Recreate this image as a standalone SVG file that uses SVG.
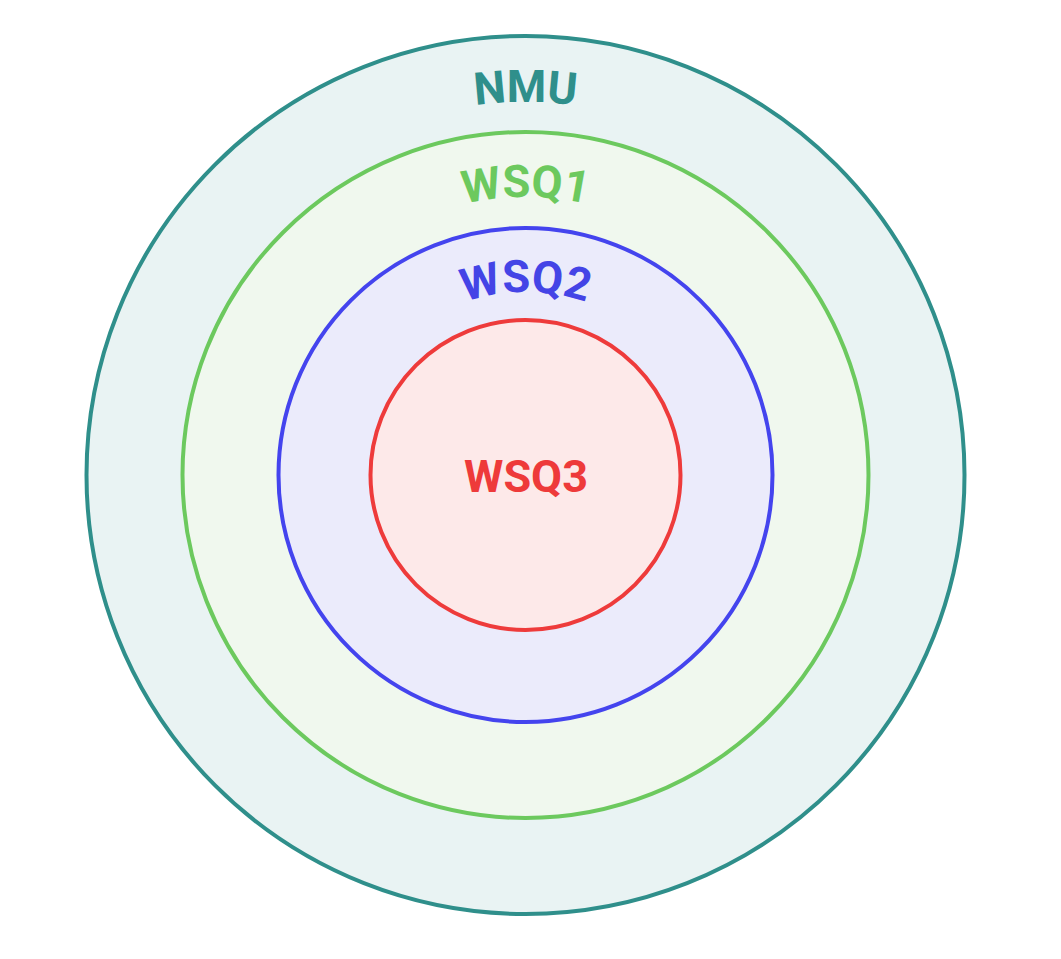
<svg xmlns="http://www.w3.org/2000/svg" xmlns:xlink="http://www.w3.org/1999/xlink" width="1061" height="959" viewBox="0 0 1061 959">
<style>
.lbl{font-family:Roboto,"Liberation Sans",sans-serif;font-weight:bold;font-size:45px;text-anchor:middle}
circle{stroke-width:4}
</style>
<defs>
<path id="pNMU" d="M152.5,475 A373,373 0 0 1 898.5,475"/>
<path id="pW1" d="M247.5,475 A278,278 0 0 1 803.5,475"/>
<path id="pW2" d="M342.5,475 A183,183 0 0 1 708.5,475"/>
</defs>
<rect width="1061" height="959" fill="#ffffff"/>
<g id="NMU">
<circle cx="525.5" cy="475" r="439" fill="#e9f3f3" stroke="#2f8f8b"/>
<text class="lbl" fill="#2f8f8b"><textPath xlink:href="#pNMU" href="#pNMU" startOffset="50%">NMU</textPath></text>
</g>
<g id="WSQ1">
<circle cx="525.5" cy="475" r="343" fill="#f0f8ee" stroke="#6cc95e"/>
<text class="lbl" fill="#6cc95e"><textPath xlink:href="#pW1" href="#pW1" startOffset="50%">WSQ1</textPath></text>
</g>
<g id="WSQ2">
<circle cx="525.5" cy="475" r="247" fill="#ebebfb" stroke="#4444ee"/>
<text class="lbl" fill="#4444e6"><textPath xlink:href="#pW2" href="#pW2" startOffset="50%">WSQ2</textPath></text>
</g>
<g id="WSQ3">
<circle cx="525.5" cy="475" r="155" fill="#fde9e9" stroke="#ee3b3b"/>
<text class="lbl" x="526" y="492" fill="#ee3a3a">WSQ3</text>
</g>
<g id="connectors"/>
</svg>
